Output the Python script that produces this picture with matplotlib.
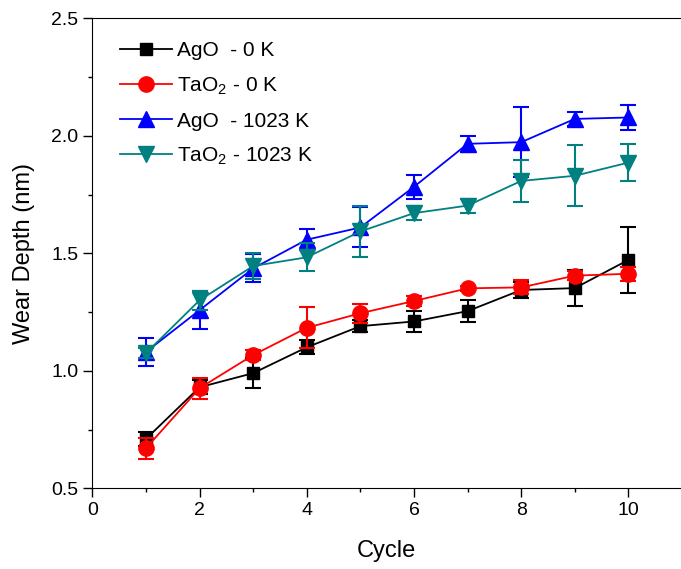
import numpy as np
import matplotlib
matplotlib.use('Agg')
import matplotlib.pyplot as plt
from matplotlib.ticker import MultipleLocator

plt.rcParams['font.family'] = ['Liberation Sans', 'DejaVu Sans']
plt.rcParams['mathtext.fontset'] = 'custom'
plt.rcParams['mathtext.rm'] = 'Liberation Sans'
plt.rcParams['mathtext.default'] = 'regular'

cycle = [1, 2, 3, 4, 5, 6, 7, 8, 9, 10]

ago_0k = [0.71, 0.93, 0.99, 1.10, 1.19, 1.21, 1.254, 1.344, 1.352, 1.472]
ago_0k_err = [0.03, 0.03, 0.063, 0.03, 0.025, 0.045, 0.047, 0.035, 0.075, 0.14]

tao2_0k = [0.67, 0.926, 1.067, 1.183, 1.245, 1.297, 1.351, 1.355, 1.405, 1.413]
tao2_0k_err = [0.045, 0.045, 0.02, 0.087, 0.04, 0.02, 0.01, 0.03, 0.02, 0.03]

ago_1023k = [1.08, 1.258, 1.436, 1.558, 1.61, 1.783, 1.966, 1.973, 2.072, 2.078]
ago_1023k_err = [0.058, 0.08, 0.06, 0.045, 0.085, 0.05, 0.033, 0.15, 0.03, 0.055]

tao2_1023k = [1.075, 1.30, 1.446, 1.483, 1.593, 1.671, 1.703, 1.808, 1.83, 1.886]
tao2_1023k_err = [0.02, 0.04, 0.055, 0.06, 0.11, 0.03, 0.03, 0.09, 0.13, 0.08]

labels = ['AgO  - 0 K', 'TaO$_2$ - 0 K', 'AgO  - 1023 K', 'TaO$_2$ - 1023 K']
colors = ['black', '#FF0000', '#0000FF', '#008080']
markers = ['s', 'o', '^', 'v']
sizes = [9, 11, 12, 12]

fig = plt.figure(figsize=(6.81, 5.69), dpi=100)
ax = fig.add_axes([0.1355, 0.1418, 0.8645, 0.826])

series = [(ago_0k, ago_0k_err), (tao2_0k, tao2_0k_err),
          (ago_1023k, ago_1023k_err), (tao2_1023k, tao2_1023k_err)]
handles = []
for (y, e), lab, c, m, s in zip(series, labels, colors, markers, sizes):
    ax.errorbar(cycle, y, yerr=e, fmt='none', ecolor=c, elinewidth=1.5,
                capsize=6, capthick=1.5)
    h, = ax.plot(cycle, y, color=c, marker=m, markersize=s, lw=1.3, label=lab)
    handles.append(h)

ax.set_xlim(0, 10.98)
ax.set_ylim(0.5, 2.5)
ax.xaxis.set_major_locator(MultipleLocator(2))
ax.xaxis.set_minor_locator(MultipleLocator(1))
ax.yaxis.set_major_locator(MultipleLocator(0.5))
ax.yaxis.set_minor_locator(MultipleLocator(0.25))
ax.spines['right'].set_visible(False)
ax.tick_params(which='major', direction='out', length=6.5, width=1, labelsize=14)
ax.tick_params(which='minor', direction='out', length=3, width=1)
ax.set_xlabel('Cycle', fontsize=17, labelpad=15)
ax.set_ylabel('Wear Depth (nm)', fontsize=17, labelpad=12)

ax.legend(handles=handles, loc='upper left', bbox_to_anchor=(0.047, 0.951),
          borderaxespad=0, borderpad=0,
          frameon=False, fontsize=15, handlelength=2.5, labelspacing=0.72,
          handletextpad=0.25)

fig.savefig('out.png', dpi=100)
